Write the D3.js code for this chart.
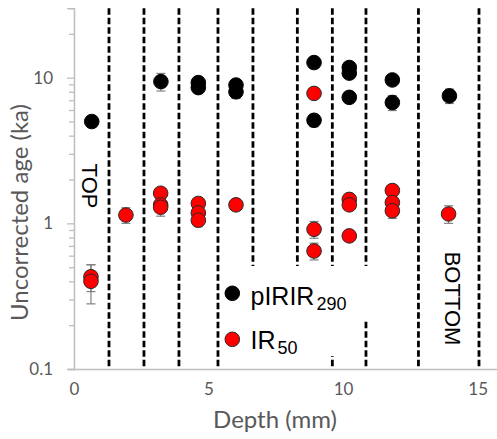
<!DOCTYPE html>
<html><head><meta charset="utf-8">
<script src="https://cdn.jsdelivr.net/npm/d3@7"></script>
<style>
html,body{margin:0;padding:0;background:#fff;}
svg{display:block;}
</style></head>
<body>
<svg id="chart" width="497" height="439"></svg>
<script>
// ---- data ----
const seriesNames = ["pIRIR", "IR"];
const seriesSubs = ["290", "50"];
const seriesColors = ["#000000", "#ff0000"];

const pDepth = [0.66, 3.23, 4.62, 4.62, 6.02, 6.02, 8.92, 8.92, 10.23, 10.23, 10.23, 11.83, 11.83, 13.95];
const pAge   = [5.0, 9.4, 9.25, 8.55, 8.9, 8.0, 12.7, 5.1, 11.75, 10.75, 7.33, 9.65, 6.75, 7.5];
const pErr   = [0.4, 1.3, 0.7, 0.7, 0.7, 0.8, 0.8, 0.5, 0.9, 0.8, 0.6, 0.7, 0.8, 0.85];

const irDepth = [0.63, 0.63, 1.93, 3.22, 3.22, 3.22, 4.62, 4.62, 4.62, 6.02, 8.92, 8.92, 8.92, 10.23, 10.23, 10.23, 11.83, 11.83, 11.83, 13.92];
const irAge   = [0.43, 0.40, 1.14, 1.61, 1.34, 1.29, 1.37, 1.18, 1.05, 1.34, 7.8, 0.91, 0.646, 1.46, 1.34, 0.82, 1.68, 1.39, 1.22, 1.16];
const irErr   = [0.09, 0.12, 0.14, 0.12, 0.12, 0.17, 0.1, 0.1, 0.1, 0.1, 0.5, 0.12, 0.085, 0.1, 0.1, 0.06, 0.1, 0.1, 0.14, 0.16];

const boundaries = [1.3, 2.6, 3.9, 5.35, 6.65, 8.3, 9.6, 10.85, 12.8, 15.05];

const xTicks = [0, 5, 10, 15];
const yMajor = [0.1, 1, 10];
const yMinor = [0.2,0.3,0.4,0.5,0.6,0.7,0.8,0.9,2,3,4,5,6,7,8,9,20,30];

const xTitle = "Depth (mm)";
const yTitle = "Uncorrected age (ka)";
const topLabel = "TOP";
const bottomLabel = "BOTTOM";

// ---- layout ----
const svg = d3.select("#chart");
const x = d3.scaleLinear().domain([0, 16]).range([74, 74 + 16 * 26.91]);
const y = d3.scaleLog().domain([0.1, 30]).range([369, 8.2]);

const axisGrey = "#bfbfbf";
const textGrey = "#595959";

// y axis
const gy = svg.append("g").attr("transform", `translate(${x(0)},0)`);
gy.call(d3.axisLeft(y).tickValues(yMinor).tickSize(5).tickFormat(""));
gy.call(g => g.append("g").call(d3.axisLeft(y).tickValues(yMajor).tickSize(7)
   .tickFormat(d => d === 0.1 ? "0.1" : d3.format("d")(d))));
gy.selectAll("path.domain").attr("stroke", axisGrey).attr("stroke-width", 1.3);
gy.selectAll("line").attr("stroke", axisGrey).attr("stroke-width", 1.3);
gy.selectAll("text").attr("fill", textGrey).attr("font-family", "Lato, sans-serif")
  .attr("font-size", 17).attr("x", -21);

// x axis
const gx = svg.append("g").attr("transform", `translate(0,${y(0.1)})`);
gx.call(d3.axisBottom(x).tickValues(xTicks).tickSize(0).tickPadding(14));
gx.selectAll("path.domain").attr("stroke", axisGrey).attr("stroke-width", 1.3);
gx.selectAll("text").attr("fill", textGrey).attr("font-family", "Lato, sans-serif").attr("font-size", 17);

// boundaries (dashed)
svg.append("g").selectAll("line").data(boundaries).join("line")
  .attr("x1", d => x(d)).attr("x2", d => x(d))
  .attr("y1", y(30)).attr("y2", y(0.1))
  .attr("stroke", "#000").attr("stroke-width", 2.8).attr("stroke-dasharray", "6.5,3");

// series
function drawSeries(depth, age, err, color, stroke) {
  const data = depth.map((d, i) => ({d, a: age[i], e: err[i]}));
  const g = svg.append("g");
  const eb = g.append("g").attr("stroke", "#808080").attr("stroke-width", 1.2);
  eb.selectAll("line.v").data(data).join("line").attr("class", "v")
    .attr("x1", d => x(d.d)).attr("x2", d => x(d.d))
    .attr("y1", d => y(d.a + d.e)).attr("y2", d => y(d.a - d.e));
  eb.selectAll("line.t").data(data).join("line").attr("class", "t")
    .attr("x1", d => x(d.d) - 4.5).attr("x2", d => x(d.d) + 4.5)
    .attr("y1", d => y(d.a + d.e)).attr("y2", d => y(d.a + d.e));
  eb.selectAll("line.b").data(data).join("line").attr("class", "b")
    .attr("x1", d => x(d.d) - 4.5).attr("x2", d => x(d.d) + 4.5)
    .attr("y1", d => y(d.a - d.e)).attr("y2", d => y(d.a - d.e));
  g.selectAll("circle").data(data).join("circle")
    .attr("cx", d => x(d.d)).attr("cy", d => y(d.a)).attr("r", 7.3)
    .attr("fill", color).attr("stroke", stroke).attr("stroke-width", 1);
}
drawSeries(pDepth, pAge, pErr, seriesColors[0], "#000");
drawSeries(irDepth, irAge, irErr, seriesColors[1], "#2a2a2a");

// legend background
const lg = svg.append("g");
lg.append("rect").attr("x", 224).attr("y", 266).attr("width", 148).attr("height", 54).attr("fill", "#fff");
lg.append("rect").attr("x", 224).attr("y", 319).attr("width", 120).attr("height", 37).attr("fill", "#fff");
lg.append("rect").attr("x", 224).attr("y", 355).attr("width", 86).attr("height", 12).attr("fill", "#fff");

const legendRows = [{cy: 293.3, base: 305}, {cy: 339.3, base: 348.5}];
seriesNames.forEach((n, i) => {
  lg.append("circle").attr("cx", 232.3).attr("cy", legendRows[i].cy).attr("r", 7.3)
    .attr("fill", seriesColors[i]).attr("stroke", i ? "#2a2a2a" : "#000");
  const t = lg.append("text").attr("x", 250.5).attr("y", legendRows[i].base)
    .attr("font-family", "'Liberation Sans', Arial, sans-serif").attr("font-size", 25).attr("fill", "#000");
  t.append("tspan").text(n);
  t.append("tspan").attr("font-size", 18).attr("dx", 2).attr("dy", 5).text(seriesSubs[i]);
});

// TOP / BOTTOM
svg.append("text").attr("transform", "translate(81.5,186) rotate(90)")
  .attr("text-anchor", "middle").attr("font-family", "'Liberation Sans', Arial, sans-serif")
  .attr("font-size", 22).attr("fill", "#000").text(topLabel);
svg.append("text").attr("transform", "translate(445,298.5) rotate(90)")
  .attr("text-anchor", "middle").attr("font-family", "'Liberation Sans', Arial, sans-serif")
  .attr("font-size", 22).attr("fill", "#000").text(bottomLabel);

// axis titles
svg.append("text").attr("x", 275).attr("y", 428).attr("text-anchor", "middle")
  .attr("font-family", "Lato, sans-serif").attr("font-size", 24).attr("fill", textGrey).text(xTitle);
svg.append("text").attr("transform", "translate(28,212.5) rotate(-90)").attr("text-anchor", "middle")
  .attr("font-family", "Lato, sans-serif").attr("font-size", 24).attr("fill", textGrey).text(yTitle);
</script>
</body></html>
